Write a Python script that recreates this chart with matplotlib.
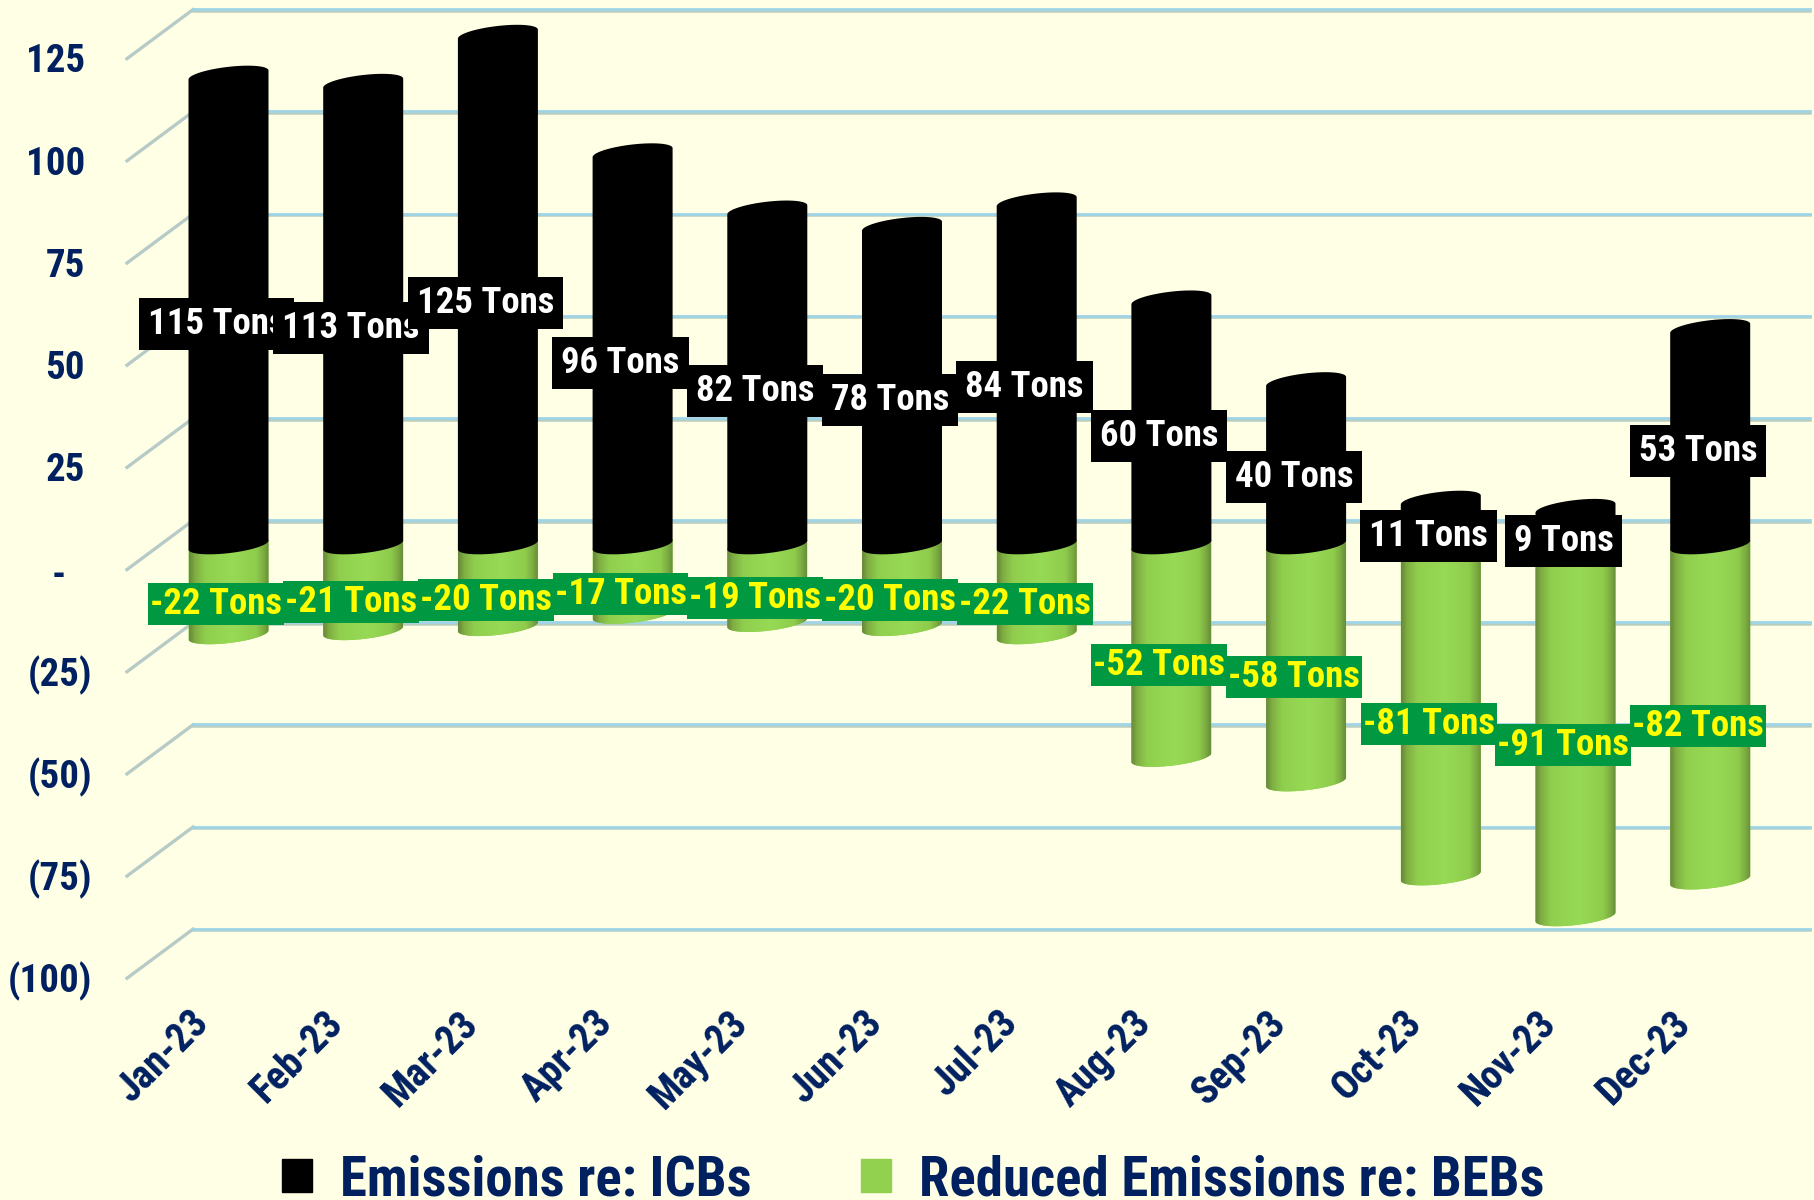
import numpy as np
import matplotlib
matplotlib.use("Agg")
import matplotlib.pyplot as plt
from matplotlib.colors import LinearSegmentedColormap
from matplotlib.patches import Patch
from matplotlib.path import Path

plt.rcParams['font.family'] = ['Roboto Condensed', 'Liberation Sans', 'DejaVu Sans']
plt.rcParams['font.weight'] = 'bold'

months = ["Jan-23", "Feb-23", "Mar-23", "Apr-23", "May-23", "Jun-23",
          "Jul-23", "Aug-23", "Sep-23", "Oct-23", "Nov-23", "Dec-23"]
icb_emissions = [115, 113, 125, 96, 82, 78, 84, 60, 40, 11, 9, 53]
beb_reductions = [-22, -21, -20, -17, -19, -20, -22, -52, -58, -81, -91, -82]
y_ticks = [125, 100, 75, 50, 25, 0, -25, -50, -75, -100]
y_labels = ["125", "100", "75", "50", "25", "-", "(25)", "(50)", "(75)", "(100)"]

BG = "#FFFFE6"
NAVY = "#002060"
W, H = 1814, 1200
# px positions of the fake 3d frame
x0_px, dx_px = 228.5, 134.7
y0_px, dy_px = 545, 4.087
back_dy, front_dy = 6.0, -6.0  # wall depth, in value units
back_x0 = (193 - x0_px) / dx_px
back_x1 = (1810 - x0_px) / dx_px
front_x = (127 - x0_px) / dx_px
half_w = 40 / dx_px
tilt, minor = 1.1, 2.0  # ellipse shape, in value units

green_cmap = LinearSegmentedColormap.from_list(
    "cyl", [(0, "#688a3a"), (0.07, "#7fae42"), (0.2, "#90cf4e"), (0.55, "#97da55"),
            (0.85, "#8fcc4c"), (0.95, "#7aa840"), (1, "#68903a")])


def cylinder(cx, top, bottom):
    t = np.linspace(0, np.pi, 40)
    xs_top = cx + half_w * np.cos(t)
    ys_top = top + tilt * np.cos(t) + minor * np.sin(t)
    t2 = np.linspace(np.pi, 2 * np.pi, 40)
    xs_bot = cx + half_w * np.cos(t2)
    ys_bot = bottom + tilt * np.cos(t2) + minor * np.sin(t2)
    return np.r_[xs_top, xs_bot], np.r_[ys_top, ys_bot]


def label_box(pad_x, pad_y):
    def box(x0, y0, width, height, mutation_size):
        x = x0 - pad_x
        y = y0 - pad_y
        w = width + 2 * pad_x
        h = height + 2 * pad_y
        return Path([(x, y), (x + w, y), (x + w, y + h), (x, y + h), (x, y)], closed=True)
    return box


fig = plt.figure(figsize=(W / 100, H / 100), dpi=100, facecolor=BG)
ax = fig.add_axes([0, 0, 1, 1])
ax.set_facecolor(BG)
ax.axis("off")

# gridlines + depth lines
for v in y_ticks:
    ax.plot([back_x0, back_x1], [v + back_dy - 0.3] * 2, color="#b9cdbf", lw=1.8, zorder=1)
    ax.plot([back_x0, back_x1], [v + back_dy + 0.1] * 2, color="#9fd4e6", lw=2.0, zorder=1.1)
    ax.plot([front_x, back_x0], [v + front_dy, v + back_dy], color="#b7cbc6", lw=2.4, zorder=1)

# accounting style: plain numbers stop short of the closing bracket
for v, lab in zip(y_ticks, y_labels):
    right_px = 92.5 if lab.endswith(")") else 66 if lab == "-" else 85
    ax.text((right_px - x0_px) / dx_px, v + front_dy - (1.6 if lab == "-" else 0.8), lab,
            color=NAVY, fontsize=28, ha="right", va="center", zorder=5)

# cylinders
for i, (pos, neg) in enumerate(zip(icb_emissions, beb_reductions)):
    xs, ys = cylinder(i, 0, neg)
    poly = ax.fill(xs, ys, color="#8fcf4e", lw=0, zorder=2)[0]
    im = ax.imshow(np.linspace(0, 1, 64)[None, :], cmap=green_cmap, aspect="auto",
                   extent=(i - half_w, i + half_w, neg - 3, 3), zorder=2.1)
    im.set_clip_path(poly)
    xs, ys = cylinder(i, pos, 0)
    ax.fill(xs, ys, color="#000000", lw=0, zorder=3)

# data labels, later ones sit on top of earlier ones
for i, (pos, neg) in enumerate(zip(icb_emissions, beb_reductions)):
    ax.text(i - 0.09, pos / 2 - 3.4, f"{pos} Tons", color="white", fontsize=26.5,
            ha="center", va="center", zorder=6 + i * 0.01,
            bbox=dict(boxstyle=label_box(9, 8), fc="black", ec="none", lw=0))
    ax.text(i - 0.09, neg / 2 - 3.4, f"{neg} Tons", color="#FFFF00", fontsize=26.5,
            ha="center", va="center", zorder=6 + i * 0.01,
            bbox=dict(boxstyle=label_box(2, 3), fc="#009942", ec="none", lw=0))

# month labels
for i, m in enumerate(months):
    ax.text(i - 0.29, (545 - 1004) / dy_px, m, color=NAVY, fontsize=28.5, rotation=45,
            rotation_mode="anchor", ha="right", va="top", zorder=5)

handles = [Patch(color="black", label="Emissions re: ICBs"),
           Patch(color="#92D050", label="Reduced Emissions re: BEBs")]
ax.legend(handles=handles, ncol=2, frameon=False, loc="center",
          bbox_to_anchor=(0.5035, 0.0165), labelcolor=NAVY, fontsize=39.5,
          handlelength=0.55, handleheight=0.55, handletextpad=0.5, columnspacing=2.0,
          borderaxespad=0, borderpad=0)

ax.set_xlim(-x0_px / dx_px, (W - x0_px) / dx_px)
ax.set_ylim((y0_px - H) / dy_px, y0_px / dy_px)

fig.savefig("out.png", dpi=100, facecolor=BG)
